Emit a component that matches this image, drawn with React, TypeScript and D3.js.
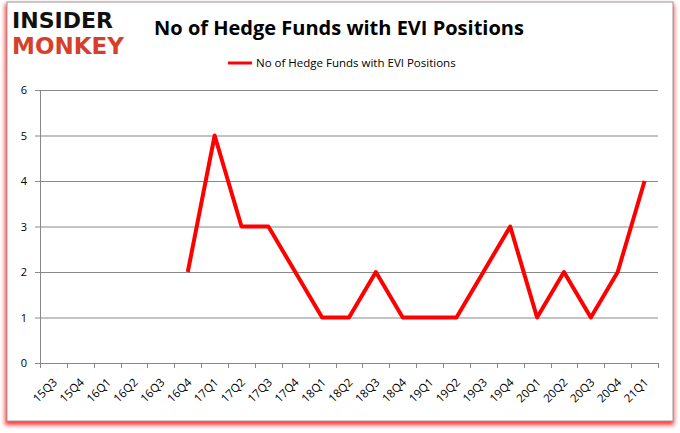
import React from "react";
import * as d3 from "d3";

const categories = ["15Q3","15Q4","16Q1","16Q2","16Q3","16Q4","17Q1","17Q2","17Q3","17Q4","18Q1","18Q2","18Q3","18Q4","19Q1","19Q2","19Q3","19Q4","20Q1","20Q2","20Q3","20Q4","21Q1"];
const values: (number | null)[] = [null,null,null,null,null,2,5,3,3,2,1,1,2,1,1,1,2,3,1,2,1,2,4];
const yTicks = [0,1,2,3,4,5,6];
const seriesName = "No of Hedge Funds with EVI Positions";
const title = "No of Hedge Funds with EVI Positions";

export default function App() {
  const W = 680, H = 433;
  const left = 40, right = 658, top = 90, bottom = 363;
  const x = d3.scaleBand<string>().domain(categories).range([left, right]);
  const y = d3.scaleLinear().domain([0, 6]).range([bottom, top]);
  const pts = categories.map((c, i) => ({ c, v: values[i] })).filter(d => d.v !== null) as { c: string; v: number }[];
  const line = d3.line<{ c: string; v: number }>()
    .x(d => (x(d.c) as number) + x.bandwidth() / 2)
    .y(d => y(d.v));
  const font = "'Open Sans', 'Liberation Sans', sans-serif";
  const boundaries = d3.range(categories.length + 1).map(i => left + i * x.bandwidth());
  return (
    <svg width={W} height={H} style={{ position: "absolute", left: 0, top: 0 }}>
      <defs>
        <filter id="sh" x="-5%" y="-5%" width="110%" height="110%">
          <feGaussianBlur stdDeviation="2" />
        </filter>
      </defs>
      <rect x={0} y={0} width={W} height={H} fill="#fff" />
      <rect x={5} y={4} width={669} height={421} fill="#ff2020" filter="url(#sh)" opacity={0.9} />
      <rect x={7} y={2} width={666} height={419} fill="#fff" stroke="#999" strokeWidth={1} />
      {/* logo */}
      <text x={12} y={28} fontFamily="'DejaVu Sans', sans-serif" fontWeight={900} fontSize={21} fill="#111" textLength={101} lengthAdjust="spacingAndGlyphs">INSIDER</text>
      <text x={12} y={54} fontFamily="'DejaVu Sans', sans-serif" fontWeight={900} fontSize={23} fill="#d63f2a" textLength={112} lengthAdjust="spacingAndGlyphs">MONKEY</text>
      {/* title */}
      <text x={339} y={35} textAnchor="middle" fontFamily={font} fontWeight={700} fontSize={20} fill="#000">{title}</text>
      {/* legend */}
      <line x1={228} x2={252} y1={63} y2={63} stroke="#ff0000" strokeWidth={3} />
      <text x={256} y={67} fontFamily={font} fontSize={11.5} fill="#000">{seriesName}</text>
      {/* gridlines */}
      {yTicks.map(t => (
        <g key={t}>
          {t > 0 && <line x1={left} x2={right} y1={y(t) + 0.5} y2={y(t) + 0.5} stroke="#888" strokeWidth={1} />}
          <line x1={left - 5} x2={left} y1={y(t) + 0.5} y2={y(t) + 0.5} stroke="#888" />
          <text x={27} y={y(t) + 4} textAnchor="end" fontFamily={font} fontSize={11} fill="#000">{t}</text>
        </g>
      ))}
      <line x1={left + 0.5} x2={left + 0.5} y1={top} y2={bottom + 5} stroke="#888" />
      <line x1={left} x2={right} y1={bottom + 0.5} y2={bottom + 0.5} stroke="#888" />
      {boundaries.map((b, i) => (
        <line key={i} x1={Math.round(b) + 0.5} x2={Math.round(b) + 0.5} y1={bottom} y2={bottom + 5} stroke="#888" />
      ))}
      {categories.map(c => {
        const cx = (x(c) as number) + x.bandwidth() / 2 + 4.5;
        const cy = bottom + 20;
        return (
          <text key={c} x={cx} y={cy} transform={`rotate(-45 ${cx} ${cy})`} textAnchor="end" fontFamily={font} fontSize={11.5} fill="#000">{c}</text>
        );
      })}
      <path d={line(pts) || ""} fill="none" stroke="#ff0000" strokeWidth={4} strokeLinejoin="round" />
    </svg>
  );
}
